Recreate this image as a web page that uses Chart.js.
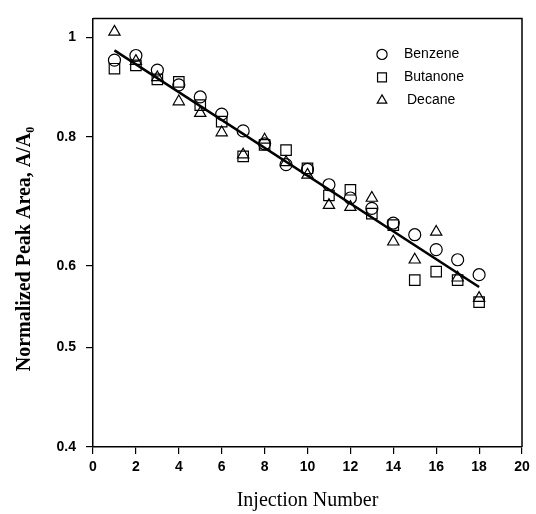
<!DOCTYPE html>
<html>
<head>
<meta charset="utf-8">
<script src="https://cdn.jsdelivr.net/npm/chart.js@4.4.1/dist/chart.umd.min.js"></script>
<style>
  html, body { margin: 0; padding: 0; background: #fff; }
  #wrap { width: 536px; height: 514px; }
</style>
</head>
<body>
<div id="wrap"><canvas id="peakChart" width="536" height="514"></canvas></div>
<script>
// Injection numbers and normalized peak areas
const injections = [1, 2, 3, 4, 5, 6, 7, 8, 9, 10, 11, 12, 13, 14, 15, 16, 17, 18];
const benzene  = [0.950, 0.960, 0.929, 0.899, 0.875, 0.842, 0.811, 0.788, 0.752, 0.744, 0.719, 0.698, 0.682, 0.660, 0.643, 0.622, 0.608, 0.588];
const butanone = [0.932, 0.939, 0.910, 0.905, 0.859, 0.828, 0.766, 0.786, 0.777, 0.746, 0.702, 0.711, 0.674, 0.657, 0.581, 0.592, 0.581, 0.553];
const decane   = [1.012, 0.948, 0.914, 0.866, 0.844, 0.808, 0.769, 0.795, 0.756, 0.735, 0.687, 0.684, 0.698, 0.633, 0.608, 0.647, 0.584, 0.558];

// fitted line end points
const fitX = [1, 18];
const fitY = [0.971, 0.572];

const xTicks = [0, 2, 4, 6, 8, 10, 12, 14, 16, 18, 20];
const yTicks = [0.4, 0.5, 0.6, 0.8, 1];

const yTitle = 'Normalized Peak Area, A/A\u2080';

const toPoints = (xs, ys) => xs.map((x, i) => ({ x: x, y: ys[i] }));

function markerSet(label, values, style, radius) {
  return {
    label: label,
    data: toPoints(injections, values),
    pointStyle: style,
    pointRadius: radius,
    pointHoverRadius: radius,
    pointBorderColor: '#000',
    pointBackgroundColor: 'rgba(0,0,0,0)',
    pointBorderWidth: 1.2,
    showLine: false
  };
}

const serif = '"Liberation Serif", "Times New Roman", serif';
const sans = '"Liberation Sans", Arial, sans-serif';

// frame (top + right), y title and the in-plot legend
const framePlugin = {
  id: 'frame',
  afterDraw(chart) {
    const ctx = chart.ctx;
    const a = chart.chartArea;
    ctx.save();
    ctx.strokeStyle = '#000';
    ctx.lineWidth = 1.5;
    ctx.beginPath();
    ctx.moveTo(a.left, a.top);
    ctx.lineTo(a.right, a.top);
    ctx.lineTo(a.right, a.bottom);
    ctx.stroke();

    // y axis title, a bit below the middle like the original
    ctx.save();
    ctx.translate(25, 249);
    ctx.rotate(-Math.PI / 2);
    ctx.font = 'bold 20px ' + serif;
    ctx.fillStyle = '#000';
    ctx.textAlign = 'center';
    ctx.textBaseline = 'middle';
    ctx.fillText(yTitle, 0, 0);
    ctx.restore();

    // legend
    const items = chart.data.datasets.filter(d => d.showLine === false);
    ctx.font = '14px ' + sans;
    ctx.textBaseline = 'middle';
    items.forEach((d, i) => {
      const mx = a.left + 289;
      const my = a.top + 36 + i * 23;
      ctx.lineWidth = 1.2;
      ctx.strokeStyle = '#000';
      ctx.fillStyle = 'rgba(0,0,0,0)';
      Chart.helpers.drawPoint(ctx, {
        pointStyle: d.pointStyle,
        radius: d.pointRadius * 0.85,
        rotation: 0,
        borderWidth: 1.2
      }, mx, my);
      ctx.fillStyle = '#000';
      ctx.fillText(d.label, mx + 22 + (d.pointStyle === 'triangle' ? 3 : 0), my);
    });
    ctx.restore();
  }
};

new Chart(document.getElementById('peakChart').getContext('2d'), {
  type: 'scatter',
  data: {
    datasets: [
      markerSet('Benzene', benzene, 'circle', 6),
      markerSet('Butanone', butanone, 'rect', 7.4),
      markerSet('Decane', decane, 'triangle', 6.5),
      {
        label: 'fit',
        data: toPoints(fitX, fitY),
        showLine: true,
        borderColor: '#000',
        borderWidth: 2.5,
        pointRadius: 0,
        fill: false
      }
    ]
  },
  plugins: [framePlugin],
  options: {
    responsive: false,
    animation: false,
    layout: { padding: { top: 16, right: 14, left: 0, bottom: 0 } },
    plugins: {
      legend: { display: false },
      tooltip: { enabled: false }
    },
    scales: {
      x: {
        type: 'linear',
        min: 0,
        max: 20,
        afterBuildTicks: s => { s.ticks = xTicks.map(v => ({ value: v })); },
        afterFit: s => { s.height = 67; },
        grid: { drawOnChartArea: false, color: '#000', tickLength: 7, lineWidth: 1.2 },
        border: { color: '#000', width: 1.5 },
        ticks: {
          color: '#000',
          padding: 5,
          maxRotation: 0,
          font: { family: sans, size: 14, weight: 'bold' },
          callback: v => String(v)
        },
        title: {
          display: true,
          text: 'Injection Number',
          color: '#000',
          padding: { top: 0, bottom: 1 },
          font: { family: serif, size: 20 }
        }
      },
      y: {
        type: 'logarithmic',
        min: 0.4,
        max: 1.043,
        afterBuildTicks: s => { s.ticks = yTicks.map(v => ({ value: v })); },
        afterFit: s => { s.width = 93; },
        grid: { drawOnChartArea: false, color: '#000', tickLength: 7, lineWidth: 1.2 },
        border: { color: '#000', width: 1.5 },
        ticks: {
          color: '#000',
          padding: 10,
          font: { family: sans, size: 14, weight: 'bold' },
          callback: v => String(v)
        },
        title: { display: false }
      }
    }
  }
});
</script>
</body>
</html>
